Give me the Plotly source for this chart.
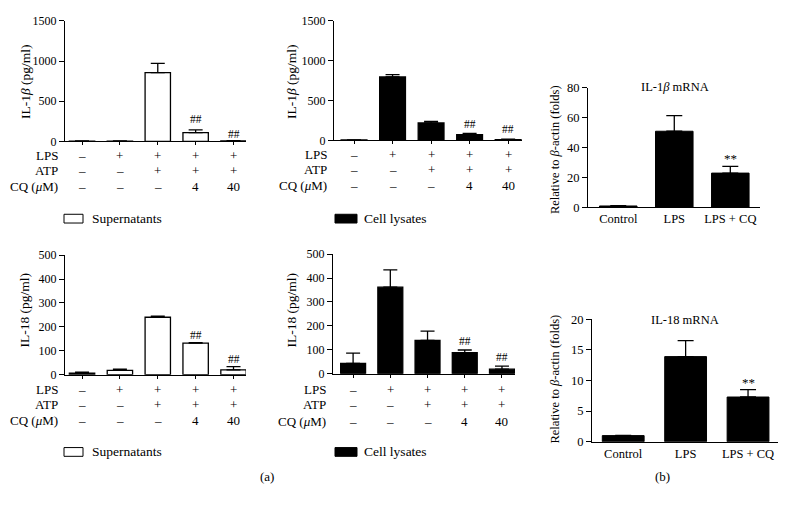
import plotly.graph_objects as go

W, H = 788, 509          # browser window
OFF = 8                  # default page body margin
FW, FH = W - OFF, H - OFF
FONT = "Liberation Serif"

# ---------------- data ----------------
cond_idx = [0, 1, 2, 3, 4]
lps_row = ["–", "+", "+", "+", "+"]
atp_row = ["–", "–", "+", "+", "+"]
cq_row = ["–", "–", "–", "4", "40"]

il1b_sup = [3, 3, 855, 108, 5]
il1b_sup_err = [2, 2, 115, 35, 5]
il1b_sup_sig = ["", "", "", "##", "##"]
il1b_sup_sig_y = [0, 0, 0, 278, 97]

il1b_lys = [5, 795, 218, 72, 8]
il1b_lys_err = [2, 30, 20, 16, 7]
il1b_lys_sig = ["", "", "", "##", "##"]
il1b_lys_sig_y = [0, 0, 0, 207, 146]

il18_sup = [6, 18, 240, 132, 20]
il18_sup_err = [4, 5, 5, 2, 14]
il18_sup_sig = ["", "", "", "##", "##"]
il18_sup_sig_y = [0, 0, 0, 167, 65]

il18_lys = [43, 362, 139, 88, 19]
il18_lys_err = [43, 72, 39, 11, 13]
il18_lys_sig = ["", "", "", "##", "##"]
il18_lys_sig_y = [0, 0, 0, 138, 69]

mrna_cats = ["Control", "LPS", "LPS + CQ"]
il1b_mrna = [1, 51, 23]
il1b_mrna_err = [0.2, 10.5, 4.5]
il1b_mrna_sig = ["", "", "**"]

il18_mrna = [1, 13.9, 7.3]
il18_mrna_err = [0.05, 2.6, 1.2]
il18_mrna_sig = ["", "", "**"]

# ---------------- layout helpers ----------------
def fx(px):
    return (px - OFF) / FW

def fy(py):
    return 1 - (py - OFF) / FH

fig = go.Figure()
layout = dict(
    width=FW, height=FH, margin=dict(l=0, r=0, t=0, b=0),
    paper_bgcolor="white", plot_bgcolor="white", showlegend=False,
    font=dict(family=FONT, color="black", size=13),
)
annotations = []
shapes = []

ROWF = 13
TICKF = 12

panels = [
    dict(n=1, xp=(65, 246), yp=(14, 138), xr=(-0.45, 4.33), yr=(0, 1500), dt=500,
         v=il1b_sup, e=il1b_sup_err, fill="white", sig=il1b_sup_sig, sigy=il1b_sup_sig_y,
         ytitle="IL-1<i>β</i> (pg/ml)", yt=(25, 77), rows=(59, [153, 168, 184]),
         leg=("Supernatants", 64, 83, 213, 222, 7)),
    dict(n=2, xp=(334, 522), yp=(14, 137), xr=(-0.52, 4.36), yr=(0, 1500), dt=500,
         v=il1b_lys, e=il1b_lys_err, fill="black", sig=il1b_lys_sig, sigy=il1b_lys_sig_y,
         ytitle="IL-1<i>β</i> (pg/ml)", yt=(291, 77), rows=(328, [152, 167, 183]),
         leg=("Cell lysates", 335, 357, 213, 222, 5)),
    dict(n=4, xp=(65, 246), yp=(255, 378), xr=(-0.45, 4.33), yr=(0, 500), dt=100,
         v=il18_sup, e=il18_sup_err, fill="white", sig=il18_sup_sig, sigy=il18_sup_sig_y,
         ytitle="IL-18 (pg/ml)", yt=(25, 312), rows=(59, [393, 409, 425]),
         leg=("Supernatants", 64, 83, 453, 462, 7)),
    dict(n=5, xp=(333, 515), yp=(254, 377), xr=(-0.54, 4.35), yr=(0, 500), dt=100,
         v=il18_lys, e=il18_lys_err, fill="black", sig=il18_lys_sig, sigy=il18_lys_sig_y,
         ytitle="IL-18 (pg/ml)", yt=(292, 312), rows=(327, [393, 409, 426]),
         leg=("Cell lysates", 335, 357, 453, 462, 5)),
]

for p in panels:
    n = p["n"]
    xa = "x" if n == 1 else f"x{n}"
    ya = "y" if n == 1 else f"y{n}"
    fig.add_trace(go.Bar(
        x=cond_idx, y=p["v"], width=0.67,
        marker=dict(color=p["fill"], line=dict(color="black", width=1.3)),
        error_y=dict(type="data", symmetric=False, array=p["e"],
                     arrayminus=[0] * len(p["e"]), color="black",
                     thickness=1.3, width=7),
        xaxis=xa, yaxis=ya,
    ))
    layout[f"xaxis{n}"] = dict(
        domain=[fx(p["xp"][0]), fx(p["xp"][1])], range=list(p["xr"]),
        anchor=ya, showgrid=False, zeroline=False, showline=True,
        linecolor="black", linewidth=1, ticks="outside", ticklen=3,
        tickcolor="black", tickvals=cond_idx, showticklabels=False,
    )
    layout[f"yaxis{n}"] = dict(
        domain=[fy(p["yp"][1]), fy(p["yp"][0])], range=list(p["yr"]),
        anchor=xa, showgrid=False, zeroline=False, showline=True,
        linecolor="black", linewidth=1, ticks="outside", ticklen=5,
        tickcolor="black", dtick=p["dt"], tick0=0,
        tickfont=dict(family=FONT, size=TICKF, color="black"),
    )
    annotations.append(dict(
        text=p["ytitle"], x=fx(p["yt"][0]), y=fy(p["yt"][1]),
        xref="paper", yref="paper", textangle=-90, showarrow=False,
        xanchor="center", yanchor="middle",
        font=dict(family=FONT, size=13.5),
    ))
    for i, s in enumerate(p["sig"]):
        if s:
            annotations.append(dict(
                text=s, x=cond_idx[i], y=p["sigy"][i], xref=xa, yref=ya,
                showarrow=False, xanchor="center", yanchor="middle",
                font=dict(family=FONT, size=11.5),
            ))
    rx, rys = p["rows"]
    for lab, row, ry in zip(["LPS", "ATP", "CQ (<i>μ</i>M)"],
                            [lps_row, atp_row, cq_row], rys):
        annotations.append(dict(
            text=lab, x=fx(rx), y=fy(ry), xref="paper", yref="paper",
            showarrow=False, xanchor="right", yanchor="middle", borderpad=0,
            font=dict(family=FONT, size=ROWF),
        ))
        for i, s in enumerate(row):
            annotations.append(dict(
                text=s, x=cond_idx[i], y=fy(ry), xref=xa, yref="paper",
                showarrow=False, xanchor="center", yanchor="middle", borderpad=0,
                font=dict(family=FONT, size=ROWF),
            ))
    lt, x0, x1, y0, y1, gap = p["leg"]
    shapes.append(dict(type="rect", xref="paper", yref="paper",
                       x0=fx(x0), x1=fx(x1), y0=fy(y1), y1=fy(y0),
                       line=dict(color="black", width=1), fillcolor=p["fill"]))
    annotations.append(dict(
        text=lt, x=fx(x1 + gap), y=fy((y0 + y1) / 2), xref="paper", yref="paper",
        showarrow=False, xanchor="left", yanchor="middle",
        font=dict(family=FONT, size=13.5),
    ))

mrna_panels = [
    dict(n=3, xp=(588, 760), yp=(83, 206), xr=(-0.54, 2.53), yr=(0, 80), dt=20,
         v=il1b_mrna, e=il1b_mrna_err, sig=il1b_mrna_sig, title="IL-1<i>β</i> mRNA",
         tpos=(675, 82), yt=(555, 147)),
    dict(n=6, xp=(592, 778), yp=(321, 447), xr=(-0.5, 2.48), yr=(0, 20), dt=5,
         v=il18_mrna, e=il18_mrna_err, sig=il18_mrna_sig, title="IL-18 mRNA",
         tpos=(685, 322), yt=(555, 383)),
]
for p in mrna_panels:
    n = p["n"]
    xa, ya = f"x{n}", f"y{n}"
    fig.add_trace(go.Bar(
        x=[0, 1, 2], y=p["v"], width=0.67,
        marker=dict(color="black", line=dict(color="black", width=1)),
        error_y=dict(type="data", symmetric=False, array=p["e"],
                     arrayminus=[0] * 3, color="black", thickness=1.3, width=8),
        xaxis=xa, yaxis=ya,
    ))
    layout[f"xaxis{n}"] = dict(
        domain=[fx(p["xp"][0]), fx(p["xp"][1])], range=list(p["xr"]),
        anchor=ya, showgrid=False, zeroline=False, showline=True,
        linecolor="black", linewidth=1, ticks="", tickvals=[0, 1, 2],
        ticktext=mrna_cats, tickfont=dict(family=FONT, size=12.5, color="black"),
    )
    layout[f"yaxis{n}"] = dict(
        domain=[fy(p["yp"][1]), fy(p["yp"][0])], range=list(p["yr"]),
        anchor=xa, showgrid=False, zeroline=False, showline=True,
        linecolor="black", linewidth=1, ticks="outside", ticklen=5,
        tickcolor="black", dtick=p["dt"], tick0=0,
        tickfont=dict(family=FONT, size=12.5, color="black"),
    )
    annotations.append(dict(
        text=p["title"], x=fx(p["tpos"][0]), y=fy(p["tpos"][1]),
        xref="paper", yref="paper", showarrow=False,
        xanchor="center", yanchor="middle", font=dict(family=FONT, size=12.5),
    ))
    annotations.append(dict(
        text="Relative to <i>β</i>-actin (folds)", x=fx(p["yt"][0]), y=fy(p["yt"][1]),
        xref="paper", yref="paper", textangle=-90, showarrow=False,
        xanchor="center", yanchor="middle", font=dict(family=FONT, size=12.5),
    ))
    for i, s in enumerate(p["sig"]):
        if s:
            annotations.append(dict(
                text=s, x=i, y=p["v"][i] + p["e"][i], xref=xa, yref=ya,
                showarrow=False, xanchor="center", yanchor="bottom", yshift=-2,
                font=dict(family=FONT, size=13),
            ))

annotations.append(dict(text="(a)", x=fx(267), y=fy(483), xref="paper", yref="paper",
                        showarrow=False, xanchor="center", yanchor="middle",
                        font=dict(family=FONT, size=13)))
annotations.append(dict(text="(b)", x=fx(662), y=fy(483), xref="paper", yref="paper",
                        showarrow=False, xanchor="center", yanchor="middle",
                        font=dict(family=FONT, size=13)))

layout["annotations"] = annotations
layout["shapes"] = shapes
fig.update_layout(**layout)
fig.write_html("out.html")
